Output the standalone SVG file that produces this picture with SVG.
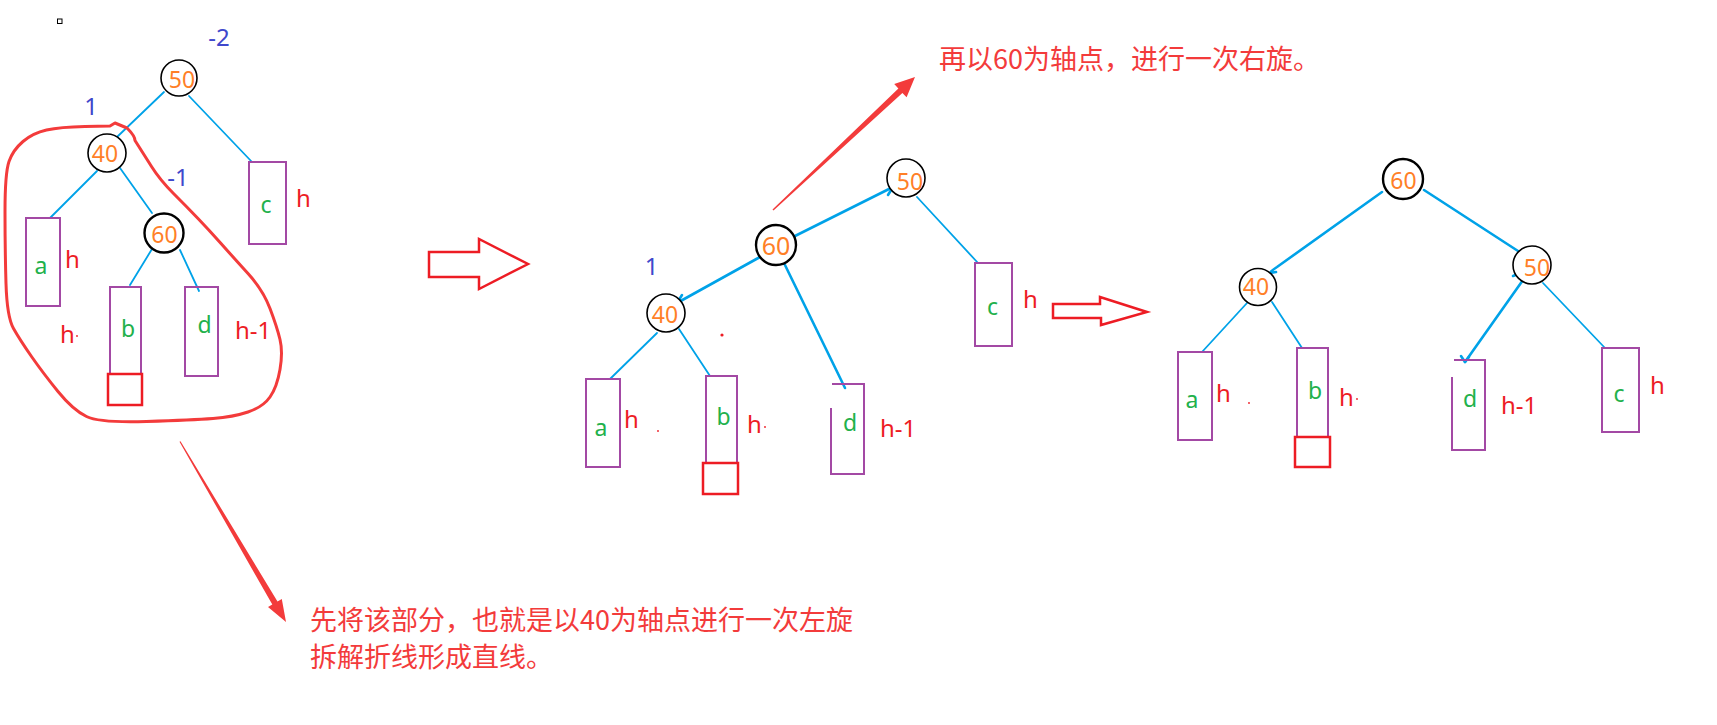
<svg xmlns="http://www.w3.org/2000/svg" width="1717" height="725" viewBox="0 0 1717 725">
<style>
.nc{fill:#fff;stroke:#000;stroke-width:1.6}
.nc2{fill:#fff;stroke:#000;stroke-width:2.4}
.num{font-family:"Noto Sans","Open Sans",sans-serif;font-size:23px;fill:#FF7F27;text-anchor:middle}
.box{fill:none;stroke:#A349A4;stroke-width:2}
.rbox{fill:none;stroke:#ED1C24;stroke-width:2.5}
.lbl{font-family:"Noto Sans","Open Sans",sans-serif;font-size:23px;fill:#22B14C;text-anchor:middle}
.h{font-family:"Noto Sans","Open Sans",sans-serif;font-size:24px;fill:#ED1C24}
.bf{font-family:"Noto Sans","Open Sans",sans-serif;font-size:24px;fill:#3F48CC;text-anchor:middle}
.e{stroke:#00A2E8;stroke-width:1.8;fill:none;stroke-linecap:round}
.e2{stroke:#00A2E8;stroke-width:2.6;fill:none;stroke-linecap:round;stroke-linejoin:round}
.ann{font-family:"Noto Sans CJK SC","Noto Sans",sans-serif;font-size:27px;fill:#F33B3B}
.hollow{fill:#fff;stroke:#ED1C24;stroke-width:2.5;stroke-linejoin:miter}
</style>
<rect width="1717" height="725" fill="#fff"/>

<rect x="57.5" y="19" width="4.5" height="4.5" fill="none" stroke="#000" stroke-width="1"/>

<g id="connectors">
  <!-- left tree -->
  <line class="e" x1="164" y1="92" x2="117" y2="137"/>
  <line class="e" x1="189" y1="96" x2="252" y2="162"/>
  <line class="e" x1="97" y1="171" x2="50" y2="218"/>
  <line class="e" x1="120" y1="168" x2="152" y2="213"/>
  <line class="e" x1="152" y1="249" x2="130" y2="285"/>
  <line class="e" x1="180" y1="250" x2="199" y2="291"/>
  <!-- middle tree -->
  <line class="e2" x1="793" y1="237" x2="893" y2="187"/>
  <line class="e2" x1="893" y1="187" x2="888" y2="195"/>
  <line class="e2" x1="760" y1="257" x2="677" y2="303"/>
  <line class="e2" x1="677" y1="303" x2="682" y2="295"/>
  <line class="e2" x1="784" y1="263" x2="845" y2="388"/>
  <line class="e" x1="657" y1="333" x2="610" y2="379"/>
  <line class="e" x1="679" y1="329" x2="710" y2="376"/>
  <line class="e" x1="917" y1="197" x2="978" y2="263"/>
  <!-- right tree -->
  <path class="e2" d="M1382 192 L1277 267 Q1271 271 1270 273 L1276 272"/>
  <line class="e2" x1="1424" y1="190" x2="1518" y2="251"/>
  <line class="e" x1="1247" y1="303" x2="1202" y2="352"/>
  <line class="e" x1="1272" y1="302" x2="1302" y2="348"/>
  <line class="e2" x1="1523" y1="280" x2="1465" y2="362"/>
  <path class="e2" d="M1461 356 L1465 362 L1469 357"/>
  <line class="e2" x1="1513" y1="276" x2="1523" y2="272"/>
  <line class="e" x1="1543" y1="283" x2="1605" y2="348"/>
</g>

<!-- LEFT TREE -->
<g id="left-50"><circle class="nc" cx="179" cy="78" r="18"/><text class="num" x="182" y="88">50</text></g>
<g id="left-40"><circle class="nc" cx="107" cy="153" r="19"/><text class="num" x="105" y="162">40</text></g>
<g id="left-60"><circle class="nc2" cx="164" cy="233" r="19.5"/><text class="num" x="164.5" y="243">60</text></g>
<g id="left-a"><rect class="box" x="26" y="218" width="34" height="88"/><text class="lbl" x="41" y="274">a</text></g>
<g id="left-b"><rect class="box" x="110" y="287" width="31" height="87"/><text class="lbl" x="128" y="337">b</text><rect class="rbox" x="108" y="374" width="34" height="31"/></g>
<g id="left-c"><rect class="box" x="249" y="162" width="37" height="82"/><text class="lbl" x="266" y="213">c</text></g>
<g id="left-d"><rect class="box" x="185" y="287" width="33" height="89"/><text class="lbl" x="204.5" y="333">d</text></g>
<g id="left-labels">
  <text class="bf" x="219" y="46">-2</text>
  <text class="bf" x="91" y="115">1</text>
  <text class="bf" x="178" y="186">-1</text>
  <text class="h" x="296" y="207">h</text>
  <text class="h" x="65" y="268">h</text>
  <text class="h" x="60" y="343">h</text><circle cx="77" cy="336" r="0.9" fill="#ED1C24"/>
  <text class="h" x="235" y="339">h-1</text>
</g>
<g id="lasso">
  <path d="M110 126 L115 123 L127 128 Q135 136 135 140.5 Q143 153 151.5 166.5 Q160 180 173.5 193.5 Q187 207 198 218.5 Q209 230 221 243.5 Q233 257 248 273.5 Q263 290 270 308.5 Q277 327 280 339.5 Q283 352 280 369.5 Q277 387 270 397 Q263 407 248 412 Q233 417 213 418.5 Q193 420 146.5 421.5 Q100 423 86.5 416.5 Q73 410 58 391.5 Q43 373 31.5 356.5 Q20 340 13.5 328.5 Q7 317 6 283.5 Q5 250 5 211.5 Q5 173 9 161.5 Q13 150 23 141.5 Q33 133 46.5 130 Q60 127 85 126.5 L110 126" fill="none" stroke="#F33B3B" stroke-width="3" stroke-linejoin="round" stroke-linecap="round"/>
</g>

<!-- transition arrows -->
<g id="arrow1"><polygon class="hollow" points="429,252 479,252 479,239 528,264 479,289 479,277 429,277"/></g>
<g id="arrow2"><polygon class="hollow" points="1053,304 1100,304 1100,297 1147,312 1101,325 1101,318 1053,318"/></g>

<!-- MIDDLE TREE -->
<g id="mid-50"><circle class="nc" cx="906" cy="178" r="19"/><text class="num" x="910" y="190">50</text></g>
<g id="mid-60"><circle class="nc2" cx="776" cy="245" r="20"/><text class="num" x="776" y="255" style="font-size:25px">60</text></g>
<g id="mid-40"><circle class="nc" cx="666" cy="313" r="19"/><text class="num" x="665" y="323">40</text></g>
<g id="mid-a"><rect class="box" x="586" y="379" width="34" height="88"/><text class="lbl" x="601" y="436">a</text></g>
<g id="mid-b"><rect class="box" x="706" y="376" width="31" height="87"/><text class="lbl" x="723.5" y="425">b</text><rect class="rbox" x="703" y="463" width="35" height="31"/></g>
<g id="mid-c"><rect class="box" x="975" y="263" width="37" height="83"/><text class="lbl" x="992.5" y="315">c</text></g>
<g id="mid-d"><path class="box" d="M832 384 H864 V474 H831 V408"/><text class="lbl" x="850" y="431">d</text></g>
<g id="mid-labels">
  <text class="bf" x="651.5" y="275">1</text>
  <text class="h" x="1023" y="308">h</text>
  <text class="h" x="624" y="428">h</text>
  <text class="h" x="747" y="433">h</text><circle cx="765" cy="427" r="0.9" fill="#ED1C24"/>
  <text class="h" x="880" y="437">h-1</text>
  <circle cx="658" cy="431" r="0.9" fill="#ED1C24"/>
  <circle cx="722" cy="335" r="1.6" fill="#ED1C24"/>
</g>

<!-- RIGHT TREE -->
<g id="right-60"><circle class="nc2" cx="1403" cy="179" r="20"/><text class="num" x="1403.5" y="189">60</text></g>
<g id="right-40"><circle class="nc" cx="1258" cy="287" r="18.5"/><text class="num" x="1256" y="295">40</text></g>
<g id="right-50"><circle class="nc" cx="1532" cy="265" r="19"/><text class="num" x="1537" y="276">50</text></g>
<g id="right-a"><rect class="box" x="1178" y="352" width="34" height="88"/><text class="lbl" x="1192" y="408">a</text></g>
<g id="right-b"><rect class="box" x="1297" y="348" width="31" height="89"/><text class="lbl" x="1315" y="399">b</text><rect class="rbox" x="1295" y="437" width="35" height="30"/></g>
<g id="right-d"><path class="box" d="M1454 360 H1485 V450 H1452 V377"/><text class="lbl" x="1470" y="407">d</text></g>
<g id="right-c"><rect class="box" x="1602" y="348" width="37" height="84"/><text class="lbl" x="1619" y="402">c</text></g>
<g id="right-labels">
  <text class="h" x="1216" y="402">h</text>
  <circle cx="1249" cy="403" r="0.9" fill="#ED1C24"/>
  <text class="h" x="1339" y="406">h</text><circle cx="1357" cy="399" r="0.9" fill="#ED1C24"/>
  <text class="h" x="1501" y="414">h-1</text>
  <text class="h" x="1650" y="394">h</text>
</g>

<!-- annotations -->
<g id="note-top">
  <polygon points="773.5,210.5 902.4,92.9 906.6,97.3 915,77 894.2,84.1 898.4,88.5 772.5,209.5" fill="#F33B3B"/>
  <text class="ann" x="939" y="69">再以60为轴点，进行一次右旋。</text>
</g>
<g id="note-bottom">
  <polygon points="180.5,441.3 277.5,601.5 281.8,599 286,622 268,607 272.3,604.5 179.5,441.8" fill="#F33B3B"/>
  <text class="ann" x="310" y="630">先将该部分，也就是以40为轴点进行一次左旋</text>
  <text class="ann" x="310" y="667">拆解折线形成直线。</text>
</g>
</svg>
